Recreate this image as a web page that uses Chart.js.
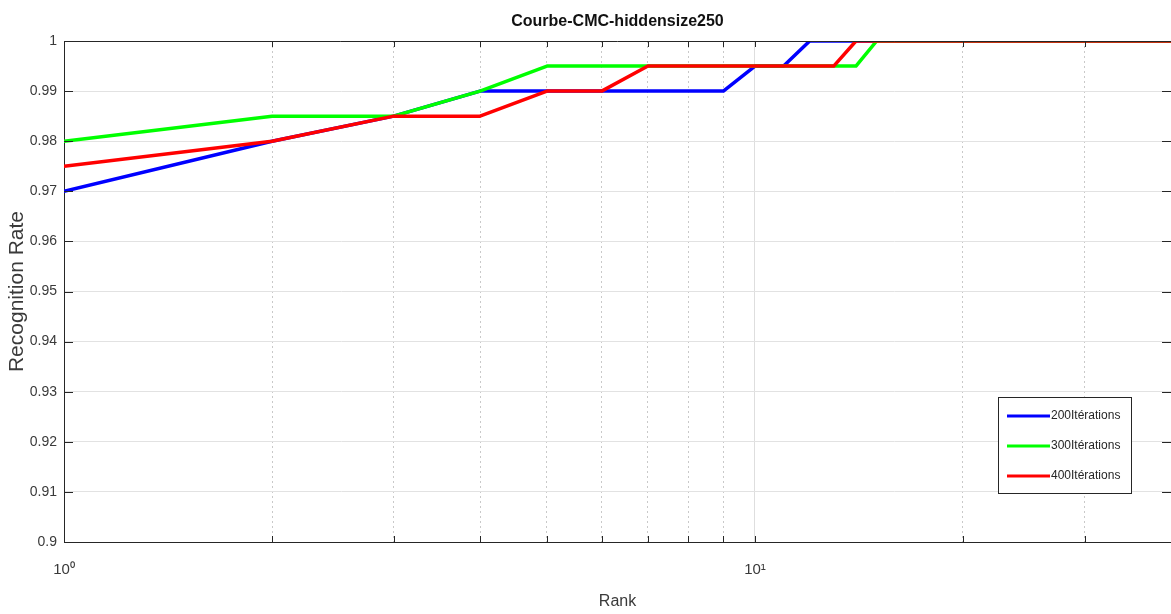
<!DOCTYPE html>
<html>
<head>
<meta charset="utf-8">
<script src="https://cdn.jsdelivr.net/npm/chart.js@4.4.0/dist/chart.umd.min.js"></script>
<style>
html, body { margin: 0; padding: 0; background: #fff; overflow: hidden; }
#wrap { width: 1171px; height: 614px; position: relative; }
#chart { display: block; }
</style>
</head>
<body>
<div id="wrap"><canvas id="chart"></canvas></div>
<script>
// rank (x, log scale)
const ranks = [1, 2, 3, 4, 5, 6, 7, 8, 9, 10, 11, 12, 13, 14, 15, 16, 17, 18, 19, 20,
  21, 22, 23, 24, 25, 26, 27, 28, 29, 30, 31, 32, 33, 34, 35, 36, 37, 38, 39, 40];

const it200 = [0.97, 0.98, 0.985, 0.99, 0.99, 0.99, 0.99, 0.99, 0.99, 0.995,
  0.995, 1, 1, 1, 1, 1, 1, 1, 1, 1,
  1, 1, 1, 1, 1, 1, 1, 1, 1, 1,
  1, 1, 1, 1, 1, 1, 1, 1, 1, 1];
const it300 = [0.98, 0.985, 0.985, 0.99, 0.995, 0.995, 0.995, 0.995, 0.995, 0.995,
  0.995, 0.995, 0.995, 0.995, 1, 1, 1, 1, 1, 1,
  1, 1, 1, 1, 1, 1, 1, 1, 1, 1,
  1, 1, 1, 1, 1, 1, 1, 1, 1, 1];
const it400 = [0.975, 0.98, 0.985, 0.985, 0.99, 0.99, 0.995, 0.995, 0.995, 0.995,
  0.995, 0.995, 0.995, 1, 1, 1, 1, 1, 1, 1,
  1, 1, 1, 1, 1, 1, 1, 1, 1, 1,
  1, 1, 1, 1, 1, 1, 1, 1, 1, 1];

const seriesNames = ['200Itérations', '300Itérations', '400Itérations'];
const seriesColors = ['#0000ff', '#00ff00', '#ff0000'];

const xTicks = [1, 2, 3, 4, 5, 6, 7, 8, 9, 10, 20, 30, 40];
const xMajor = [1, 10];
const xMajorLabels = ['10⁰', '10¹'];
const yTicks = [0.9, 0.91, 0.92, 0.93, 0.94, 0.95, 0.96, 0.97, 0.98, 0.99, 1];

const FONT = '"Liberation Sans", Arial, sans-serif';
const AXC = '#262626';

function pts(vals) {
  return ranks.map((r, i) => ({ x: r, y: vals[i] }));
}

// MATLAB-like frame: top line + inward tick marks
const frame = {
  id: 'frame',
  afterDatasetsDraw(chart) {
    const { ctx, chartArea: a, scales: { x, y } } = chart;
    ctx.save();
    ctx.strokeStyle = AXC;
    ctx.lineWidth = 1;
    ctx.beginPath();
    ctx.moveTo(a.left, a.top + 0.5);
    ctx.lineTo(a.right, a.top + 0.5);
    y.ticks.forEach(t => {
      const py = Math.round(y.getPixelForValue(t.value)) + 0.5;
      ctx.moveTo(a.left, py); ctx.lineTo(a.left + 9, py);
      ctx.moveTo(a.right, py); ctx.lineTo(a.right - 9, py);
    });
    x.ticks.forEach(t => {
      const px = Math.round(x.getPixelForValue(t.value)) + 0.5;
      ctx.moveTo(px, a.bottom); ctx.lineTo(px, a.bottom - 6);
      ctx.moveTo(px, a.top); ctx.lineTo(px, a.top + 6);
    });
    ctx.stroke();
    ctx.restore();
  }
};

// title centred on the plot area
const plotTitle = {
  id: 'plotTitle',
  afterDraw(chart) {
    const { ctx, chartArea: a } = chart;
    ctx.save();
    ctx.font = 'bold 16px ' + FONT;
    ctx.fillStyle = '#111';
    ctx.textAlign = 'center';
    ctx.textBaseline = 'middle';
    ctx.fillText('Courbe-CMC-hiddensize250', (a.left + a.right) / 2, 22);
    ctx.restore();
  }
};

// boxed legend in the lower right of the plot
const boxLegend = {
  id: 'boxLegend',
  afterDraw(chart) {
    const { ctx, chartArea: a } = chart;
    const w = 133, h = 96;
    const x0 = a.right - 40 - w, y0 = a.bottom - 49 - h;
    ctx.save();
    ctx.fillStyle = '#fff';
    ctx.fillRect(x0, y0, w, h);
    ctx.strokeStyle = AXC;
    ctx.lineWidth = 1;
    ctx.strokeRect(x0 + 0.5, y0 + 0.5, w, h);
    ctx.font = '12px ' + FONT;
    ctx.textBaseline = 'middle';
    ctx.fillStyle = AXC;
    chart.data.datasets.forEach((ds, i) => {
      const ly = y0 + 19 + i * 30;
      ctx.strokeStyle = ds.borderColor;
      ctx.lineWidth = 3;
      ctx.beginPath();
      ctx.moveTo(x0 + 9, ly);
      ctx.lineTo(x0 + 52, ly);
      ctx.stroke();
      ctx.fillText(ds.label, x0 + 53, ly);
    });
    ctx.restore();
  }
};

new Chart(document.getElementById('chart'), {
  type: 'line',
  data: {
    datasets: [
      { label: seriesNames[0], data: pts(it200), borderColor: seriesColors[0], order: 3 },
      { label: seriesNames[1], data: pts(it300), borderColor: seriesColors[1], order: 2 },
      { label: seriesNames[2], data: pts(it400), borderColor: seriesColors[2], order: 1 }
    ]
  },
  options: {
    responsive: true,
    maintainAspectRatio: false,
    animation: false,
    parsing: false,
    elements: {
      line: { borderWidth: 3.5, tension: 0, fill: false, borderCapStyle: 'round', borderJoinStyle: 'round' },
      point: { radius: 0, hoverRadius: 0 }
    },
    layout: { padding: { top: 41, left: 0, right: 0, bottom: 0 } },
    plugins: {
      legend: { display: false },
      title: { display: false },
      tooltip: { enabled: false }
    },
    scales: {
      x: {
        type: 'logarithmic',
        min: 1,
        max: 40,
        afterBuildTicks: s => { s.ticks = xTicks.map(v => ({ value: v })); },
        afterFit: s => { s.height = 72; },
        ticks: {
          autoSkip: false,
          maxRotation: 0,
          padding: 0,
          color: '#3a3a3a',
          font: { family: FONT, size: 15 },
          callback: v => {
            const k = xMajor.indexOf(v);
            return k >= 0 ? xMajorLabels[k] : '';
          }
        },
        grid: {
          drawTicks: true,
          tickLength: 19,
          tickColor: 'rgba(0,0,0,0)',
          color: c => (c.tick && xMajor.includes(c.tick.value)) ? '#dedede' : '#c9c9c9',
          lineWidth: 1
        },
        border: {
          display: true,
          color: AXC,
          width: 1,
          dash: c => (c.tick && !xMajor.includes(c.tick.value)) ? [2, 3] : []
        },
        title: {
          display: true,
          text: 'Rank',
          color: '#3a3a3a',
          font: { family: FONT, size: 16 },
          padding: { top: 0, bottom: 3 }
        }
      },
      y: {
        min: 0.9,
        max: 1,
        afterBuildTicks: s => { s.ticks = yTicks.map(v => ({ value: v })); },
        afterFit: s => { s.width = 64; },
        ticks: {
          padding: 7,
          color: '#3a3a3a',
          font: { family: FONT, size: 14 },
          callback: v => String(+v.toFixed(2))
        },
        grid: { drawTicks: false, color: '#e2e2e2', lineWidth: 1 },
        border: { display: true, color: AXC, width: 1 },
        title: {
          display: true,
          text: 'Recognition Rate',
          color: '#3a3a3a',
          font: { family: FONT, size: 21 },
          padding: { top: 5, bottom: 0 }
        }
      }
    }
  },
  plugins: [frame, plotTitle, boxLegend]
});
</script>
</body>
</html>
